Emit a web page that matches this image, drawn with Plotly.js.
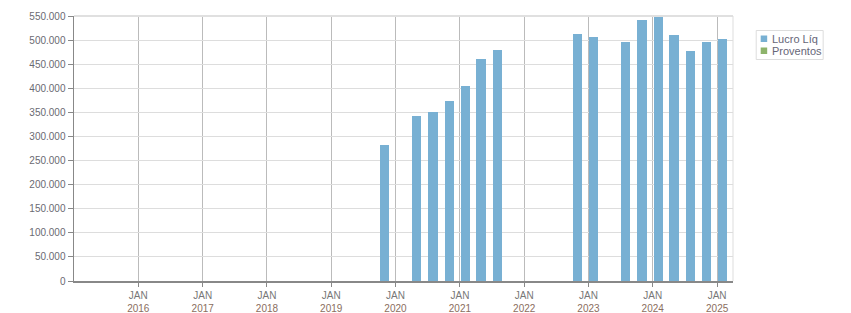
<!DOCTYPE html>
<html>
<head>
<meta charset="utf-8">
<script src="https://cdn.plot.ly/plotly-3.0.1.min.js"></script>
<style>html,body{margin:0;padding:0;background:#fff;}#chart{width:851px;height:313px;}</style>
</head>
<body>
<div id="chart"></div>
<script>
// Data
const lucroDates = ['2019-11-01','2020-05-01','2020-08-01','2020-11-01','2021-02-01','2021-05-01','2021-08-01','2022-11-01','2023-02-01','2023-08-01','2023-11-01','2024-02-01','2024-05-01','2024-08-01','2024-11-01','2025-02-01'];
const lucroValues = [283000,342500,351000,374000,405000,461000,480000,513000,507000,497000,542000,548000,511000,478000,497000,503000];
const proventosDates = [];
const proventosValues = [];
const tickYears = ['2016','2017','2018','2019','2020','2021','2022','2023','2024','2025'];
const seriesNames = ['Lucro Líq','Proventos'];
const seriesColors = ['#78b0d3','#8db36b'];

const DAY = 86400000;
const traces = [
  {type:'bar', name:seriesNames[0], x:lucroDates, y:lucroValues, width:lucroDates.map(()=>52*DAY),
   marker:{color:seriesColors[0]}, showlegend:false, hoverinfo:'x+y'},
  {type:'bar', name:seriesNames[1], x:proventosDates, y:proventosValues,
   marker:{color:seriesColors[1]}, showlegend:false}
];

const font = 'Liberation Sans, Arial, sans-serif';
const L = 74, R = 733.3, T = 16, B = 281, W = 851, H = 313;
const px = v => (v - L) / (R - L);
const py = v => (H - 32 - v) / (B - T) + 0; // paper y from pixel (bottom margin 32)
function pyp(yPix){ return (B - yPix) / (B - T); }

const shapes = [
  // top border
  {type:'line', xref:'paper', yref:'paper', x0:0, x1:1, y0:1, y1:1, line:{color:'#e0e0e0', width:2}},
  // right border
  {type:'line', xref:'paper', yref:'paper', x0:1, x1:1, y0:0, y1:1, line:{color:'#dddddd', width:1}},
  // legend box
  {type:'rect', xref:'paper', yref:'paper', x0:px(756.5), x1:px(823.5), y0:pyp(59.5), y1:pyp(30.5), line:{color:'#dddddd', width:1}, fillcolor:'rgba(0,0,0,0)'},
  {type:'rect', xref:'paper', yref:'paper', x0:px(761), x1:px(767.5), y0:pyp(42), y1:pyp(35.5), line:{width:0}, fillcolor:seriesColors[0]},
  {type:'rect', xref:'paper', yref:'paper', x0:px(761), x1:px(767.5), y0:pyp(54), y1:pyp(47.5), line:{width:0}, fillcolor:seriesColors[1]}
];
const annotations = seriesNames.map((n,i)=>({
  xref:'paper', yref:'paper', x:px(770), y:pyp(i===0?38.8:50.8), xanchor:'left', yanchor:'middle',
  text:n, showarrow:false, font:{family:font, size:11, color:'#666677'}
}));

const layout = {
  width:W, height:H,
  margin:{l:L, r:W-R, t:T, b:H-B, pad:0},
  paper_bgcolor:'#ffffff', plot_bgcolor:'#ffffff',
  separators:',.',
  showlegend:false,
  bargap:0,
  font:{family:font, size:10, color:'#666666'},
  xaxis:{
    type:'date', range:['2015-01-01','2025-04-01'],
    tickmode:'array',
    tickvals:tickYears.map(y=>y+'-01-01'),
    ticktext:tickYears.map(y=>'JAN<br><span style="color:#8a6e5e">'+y+'</span>'),
    showgrid:true, gridcolor:'#bbbbbb', gridwidth:1,
    ticks:'outside', ticklen:4, tickcolor:'#888888',
    showline:true, linecolor:'#888888', linewidth:1.5,
    zeroline:false, fixedrange:true,
    tickfont:{family:font, size:10, color:'#777777'}
  },
  yaxis:{
    range:[0,550000], tickmode:'linear', tick0:0, dtick:50000, tickformat:',d',
    showgrid:true, gridcolor:'#dddddd', gridwidth:1,
    ticks:'outside', ticklen:5, tickcolor:'#888888',
    showline:true, linecolor:'#888888', linewidth:1.5,
    zeroline:false, fixedrange:true,
    tickfont:{family:font, size:10, color:'#6a6a72'}
  },
  shapes:shapes,
  annotations:annotations
};

Plotly.newPlot('chart', traces, layout, {displayModeBar:false, staticPlot:true});
</script>
</body>
</html>
